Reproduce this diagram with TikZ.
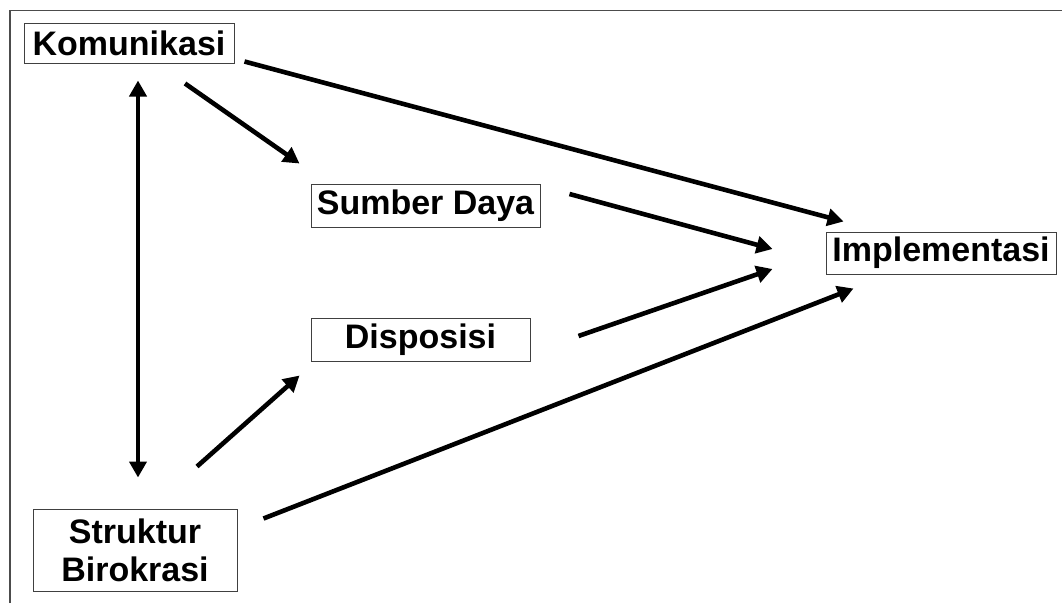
\documentclass[tikz,border=0pt]{standalone}
\usepackage{fontspec}
\setmainfont{Liberation Sans}
\usetikzlibrary{arrows.meta,calc}
\begin{document}
\begin{tikzpicture}[x=1pt,y=-1pt,
  box/.style={draw=black!75,line width=1pt,inner sep=0pt,align=center,
    font=\fontsize{34}{38}\selectfont\bfseries},
  arr/.style={line width=4.6pt,-{Triangle[length=16pt,width=17pt]}},
  darr/.style={line width=4.6pt,{Triangle[length=16pt,width=17pt]}-{Triangle[length=16pt,width=17pt]}}]
\useasboundingbox (0,0) rectangle (1062,603);
\draw[black!70,line width=1.5pt] (10,603) -- (10,10.5) -- (1062,10.5);
\node[box,minimum width=210pt,minimum height=40pt] (kom) at (129,43) {Komunikasi};
\node[box,minimum width=229pt,minimum height=43pt] (sd) at (425.5,205.5) {Sumber Daya};
\node[box,minimum width=219pt,minimum height=43pt] (disp) at (420.5,339.5) {Disposisi};
\node[box,minimum width=230pt,minimum height=42pt] (impl) at (941,253) {Implementasi};
\node[box,minimum width=204pt,minimum height=82pt] (sb) at (135,550) {Struktur\\Birokrasi};
\draw[arr] ($(kom.south east)+(10,-2)$) -- ($(impl.north west)+(18,-10)$);
\draw[arr] ($(kom.south)+(56,20)$) -- ($(sd.north west)+(-11,-20)$);
\draw[darr] ($(kom.south)+(9,17)$) -- ($(sb.north)+(3,-31)$);
\draw[arr] ($(sd.east)+(29,-11.5)$) -- ($(impl.west)+(-53,-4)$);
\draw[arr] ($(disp.east)+(48,-3.5)$) -- ($(impl.west)+(-53,16)$);
\draw[arr] ($(sb.north)+(62,-42)$) -- ($(disp.south west)+(-11,14)$);
\draw[arr] ($(sb.north east)+(26,10)$) -- ($(impl.south west)+(28,14)$);
\end{tikzpicture}
\end{document}
